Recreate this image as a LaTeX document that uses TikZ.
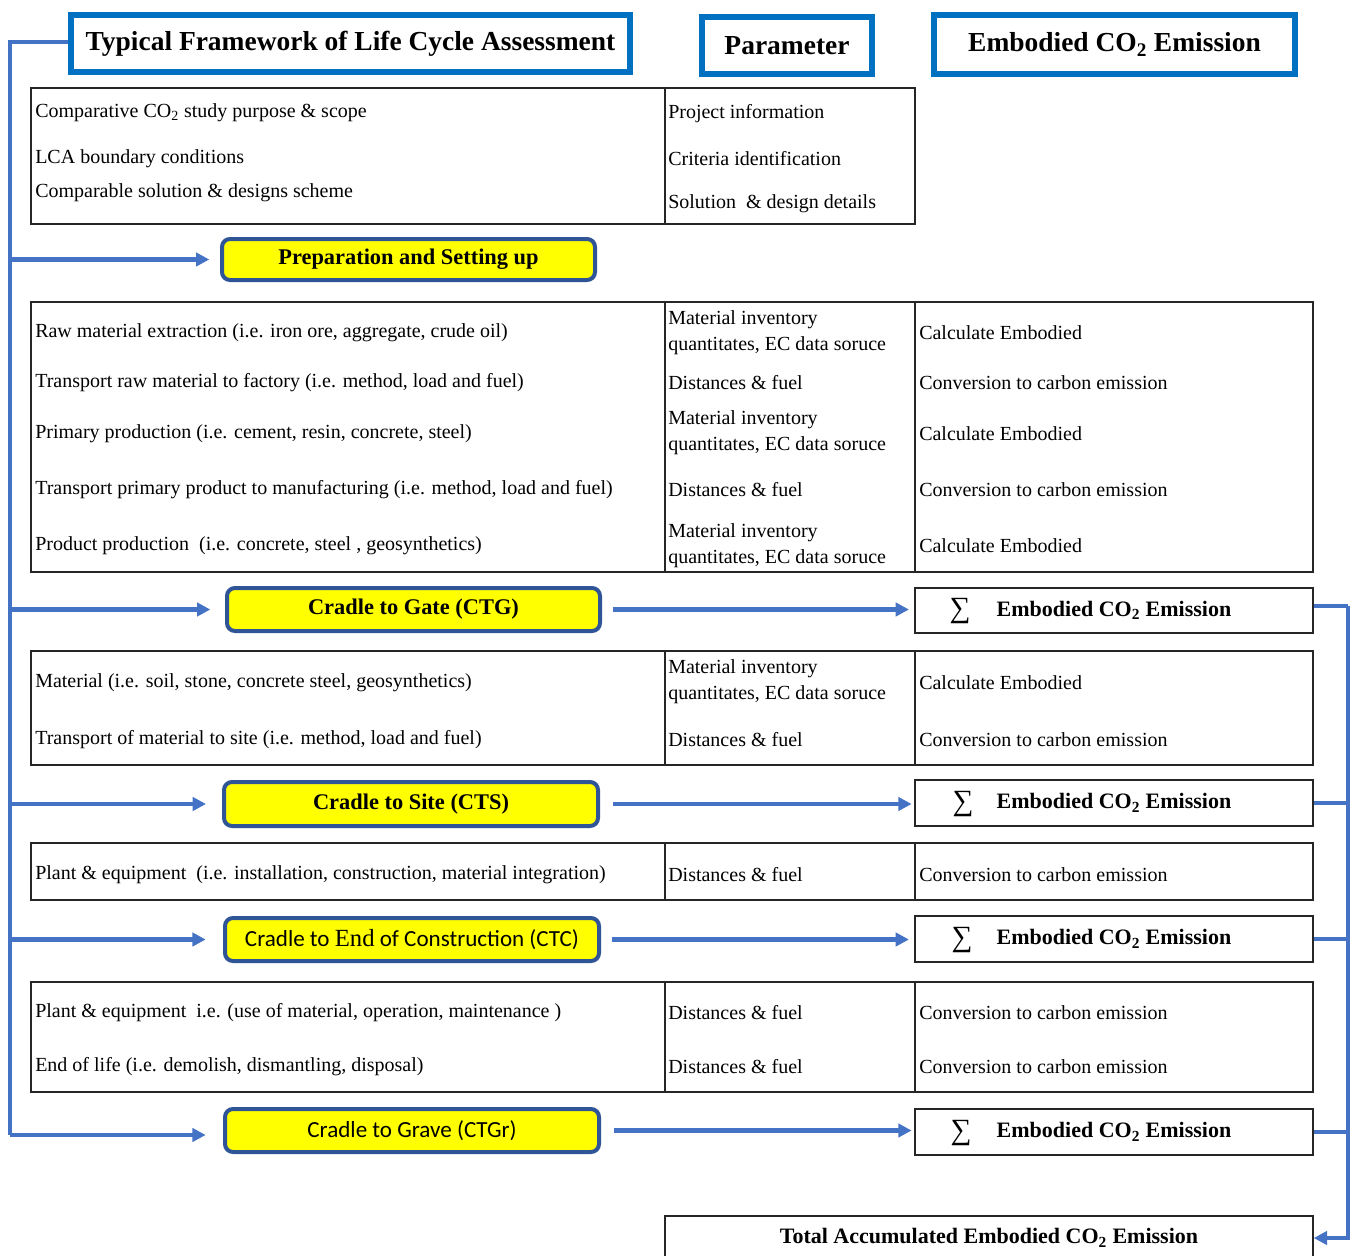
\documentclass[tikz,border=0pt]{standalone}
\usepackage{fontspec}
\setmainfont{Liberation Serif}
\newfontfamily\calib{Carlito}
\usetikzlibrary{arrows.meta}
\definecolor{hblue}{HTML}{0070C0}
\definecolor{cblue}{HTML}{4472C4}
\definecolor{ybord}{HTML}{2F5597}
\definecolor{yfill}{HTML}{FFFF00}
\tikzset{
  sz/.style 2 args={minimum width=#1*0.75pt, minimum height=#2*0.75pt},
  hdr/.style={draw=hblue, line width=4.5pt, fill=white, inner sep=0pt,
    font=\bfseries\fontsize{20.6}{24}\selectfont},
  ybox/.style={draw=ybord, line width=3pt, fill=yfill, rounded corners=6pt, inner sep=0pt,
    font=\bfseries\fontsize{16.8}{20}\selectfont},
  ycal/.style={ybox, font=\calib\fontsize{17.3}{20}\selectfont},
  tbl/.style={draw=black!85, line width=1.1pt, inner sep=0pt},
  sumbox/.style={tbl, font=\bfseries\fontsize{16.5}{20}\selectfont},
  sig/.style={inner sep=0pt, font=\fontsize{22}{22}\selectfont},
  txt/.style={anchor=west, inner sep=0pt, yshift=-2.2pt, font=\fontsize{15}{19.5}\selectfont, align=left},
  conn/.style={draw=cblue, line width=3.4pt},
  arr/.style={conn, -{Triangle[length=10pt,width=10pt]}},
}
\newcommand{\COtwo}{CO\textsubscript{2}}
\begin{document}
\begin{tikzpicture}[x=0.75pt,y=-0.75pt]
\useasboundingbox (0,0) rectangle (1354,1256);
\begin{scope}
\clip (0,0) rectangle (1354,1256);
% headers
\node[hdr, sz={559}{57}] (h1) at (350.5,43.5) {Typical Framework of Life Cycle Assessment};
\node[hdr, sz={170}{57}] (h2) at (787,45.5) {Parameter};
\node[hdr, sz={361}{59}] (h3) at (1114.5,44.5) {Embodied \COtwo{} Emission};

% table 1
\node[tbl, sz={884}{136}] (t1) at (473,156) {};
\draw[tbl] (665,88) -- (665,224);
\node[txt] (a1) at (35,110) {Comparative \COtwo{} study purpose \& scope};
\node[txt] (a2) at (35,156) {LCA boundary conditions};
\node[txt] (a3) at (35,190) {Comparable solution \& designs scheme};
\node[txt] (b1) at (668,111) {Project information};
\node[txt] (b2) at (668,156) {Criteria identification};
\node[txt] (b3) at (668,201) {Solution~ \& design details};

% table 2
\node[tbl, sz={1282}{270}] (t2) at (672,437) {};
\draw[tbl] (665,302) -- (665,572) (915,302) -- (915,572);
\node[txt] (c1) at (35,330) {Raw material extraction (i.e. iron ore, aggregate, crude oil)};
\node[txt] (c2) at (35,380) {Transport raw material to factory (i.e. method, load and fuel)};
\node[txt] (c3) at (35,431) {Primary production (i.e. cement, resin, concrete, steel)};
\node[txt] (c4) at (35,487) {Transport primary product to manufacturing (i.e. method, load and fuel)};
\node[txt] (c5) at (35,543) {Product production~ (i.e. concrete, steel , geosynthetics)};
\node[txt] (d1) at (668,330) {Material inventory\\quantitates, EC data soruce};
\node[txt] (d2) at (668,380) {Distances \& fuel};
\node[txt] (d3) at (668,430) {Material inventory\\quantitates, EC data soruce};
\node[txt] (d4) at (668,487) {Distances \& fuel};
\node[txt] (d5) at (668,543) {Material inventory\\quantitates, EC data soruce};
\node[txt] (e1) at (919,330) {Calculate Embodied};
\node[txt] (e2) at (919,380) {Conversion to carbon emission};
\node[txt] (e3) at (919,431) {Calculate Embodied};
\node[txt] (e4) at (919,487) {Conversion to carbon emission};
\node[txt] (e5) at (919,543) {Calculate Embodied};

% table 3
\node[tbl, sz={1282}{114}] (t3) at (672,708) {};
\draw[tbl] (665,651) -- (665,765) (915,651) -- (915,765);
\node[txt] (f1) at (35,680) {Material (i.e. soil, stone, concrete steel, geosynthetics)};
\node[txt] (f2) at (35,737) {Transport of material to site (i.e. method, load and fuel)};
\node[txt] (g1) at (668,679) {Material inventory\\quantitates, EC data soruce};
\node[txt] (g2) at (668,737) {Distances \& fuel};
\node[txt] (k1) at (919,680) {Calculate Embodied};
\node[txt] (k2) at (919,737) {Conversion to carbon emission};

% table 4
\node[tbl, sz={1282}{57}] (t4) at (672,871.5) {};
\draw[tbl] (665,843) -- (665,900) (915,843) -- (915,900);
\node[txt] (m1) at (35,872) {Plant \& equipment~ (i.e. installation, construction, material integration)};
\node[txt] (m2) at (668,872) {Distances \& fuel};
\node[txt] (m3) at (919,872) {Conversion to carbon emission};

% table 5
\node[tbl, sz={1282}{110}] (t5) at (672,1037) {};
\draw[tbl] (665,982) -- (665,1092) (915,982) -- (915,1092);
\node[txt] (n1) at (35,1010) {Plant \& equipment~ i.e. (use of material, operation, maintenance )};
\node[txt] (n2) at (35,1064) {End of life (i.e. demolish, dismantling, disposal)};
\node[txt] (p1) at (668,1010) {Distances \& fuel};
\node[txt] (p2) at (668,1064) {Distances \& fuel};
\node[txt] (q1) at (919,1010) {Conversion to carbon emission};
\node[txt] (q2) at (919,1064) {Conversion to carbon emission};

% yellow stage boxes
\node[ybox, sz={373}{41}] (prep) at (408.5,259.5) {Preparation and Setting up};
\node[ybox, sz={373}{43}] (ctg) at (413.5,609.5) {Cradle to Gate (CTG)};
\node[ybox, sz={374}{44}] (cts) at (411,804) {Cradle to Site (CTS)};
\node[ycal, sz={374}{43}] (ctc) at (412,939.5) {Cradle to {\rmfamily\fontsize{18.5}{20}\selectfont End} of Construction (CTC)};
\node[ycal, sz={374}{43}] (ctgr) at (412,1130.5) {Cradle to Grave (CTGr)};

% sum boxes
\node[sumbox, sz={398}{45}] (s1) at (1114,610.5) {Embodied \COtwo{} Emission};
\node[sumbox, sz={398}{46}] (s2) at (1114,803) {Embodied \COtwo{} Emission};
\node[sumbox, sz={398}{46}] (s3) at (1114,939) {Embodied \COtwo{} Emission};
\node[sumbox, sz={398}{46}] (s4) at (1114,1132) {Embodied \COtwo{} Emission};
\node[sig] (g1s) at (960,611) {∑};
\node[sig] (g2s) at (963,804) {∑};
\node[sig] (g3s) at (962,940) {∑};
\node[sig] (g4s) at (961,1133) {∑};

% total
\node[sumbox, sz={648}{44}] (total) at (989,1238) {Total Accumulated Embodied \COtwo{} Emission};

% left connectors
\coordinate (L0) at (10,42);
\coordinate (L1) at (10,1135);
\draw[conn] (h1.west |- L0) -- (L0) -- (L1);
\draw[arr, shorten >=8pt] (L0 |- prep.west) -- (prep.west);
\draw[arr, shorten >=11pt] (L0 |- ctg.west) -- (ctg.west);
\draw[arr, shorten >=12pt] (L0 |- cts.west) -- (cts.west);
\draw[arr, shorten >=13pt] (L0 |- ctc.west) -- (ctc.west);
\draw[arr, shorten >=13pt] (L1) -- (ctgr.west |- L1);

% right connectors (stage -> sum)
\draw[arr, shorten <=8pt, shorten >=4pt] (ctg.east) -- (ctg.east -| s1.west);
\draw[arr, shorten <=10pt, shorten >=2pt] (cts.east) -- (cts.east -| s2.west);
\draw[arr, shorten <=8pt, shorten >=4pt] (ctc.east) -- (ctc.east -| s3.west);
\draw[arr, shorten <=10pt, shorten >=2pt] (ctgr.east) -- (ctgr.east -| s4.west);

% right collector
\coordinate (R0) at (1348,606);
\draw[conn] (s1.east |- R0) -- (R0);
\draw[arr] (R0) |- (total.east);
\draw[conn] (s2.east) -- (R0 |- s2.east);
\draw[conn] (s3.east) -- (R0 |- s3.east);
\draw[conn] (s4.east) -- (R0 |- s4.east);
\end{scope}
\end{tikzpicture}
\end{document}
